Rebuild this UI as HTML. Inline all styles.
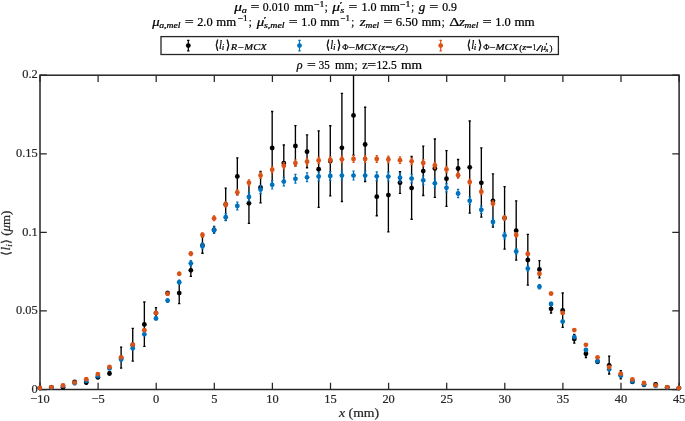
<!DOCTYPE html>
<html><head><meta charset="utf-8"><title>plot</title>
<style>
html,body{margin:0;padding:0;background:#fff;}
svg{display:block;font-family:"Liberation Serif",serif;}
.i{font-style:italic;}
</style></head><body>
<svg width="685" height="421" viewBox="0 0 685 421">
<rect width="685" height="421" fill="#fff"/>
<!--AXES-->
<rect x="40.0" y="75.2" width="639.10" height="314.30" fill="none" stroke="#262626" stroke-width="1.5"/><path d="M40.00 389.5v-6.8M40.00 75.2v6.8M98.10 389.5v-6.8M98.10 75.2v6.8M156.20 389.5v-6.8M156.20 75.2v6.8M214.30 389.5v-6.8M214.30 75.2v6.8M272.40 389.5v-6.8M272.40 75.2v6.8M330.50 389.5v-6.8M330.50 75.2v6.8M388.60 389.5v-6.8M388.60 75.2v6.8M446.70 389.5v-6.8M446.70 75.2v6.8M504.80 389.5v-6.8M504.80 75.2v6.8M562.90 389.5v-6.8M562.90 75.2v6.8M621.00 389.5v-6.8M621.00 75.2v6.8M679.10 389.5v-6.8M679.10 75.2v6.8M40.0 389.50h6.8M679.1 389.50h-6.8M40.0 310.93h6.8M679.1 310.93h-6.8M40.0 232.35h6.8M679.1 232.35h-6.8M40.0 153.77h6.8M679.1 153.77h-6.8M40.0 75.20h6.8M679.1 75.20h-6.8" stroke="#262626" stroke-width="1.25" fill="none"/><g font-size="12.4" fill="#262626" stroke="#262626" stroke-width="0.2"><text x="40.00" y="403.0" text-anchor="middle">−10</text><text x="98.10" y="403.0" text-anchor="middle">−5</text><text x="156.20" y="403.0" text-anchor="middle">0</text><text x="214.30" y="403.0" text-anchor="middle">5</text><text x="272.40" y="403.0" text-anchor="middle">10</text><text x="330.50" y="403.0" text-anchor="middle">15</text><text x="388.60" y="403.0" text-anchor="middle">20</text><text x="446.70" y="403.0" text-anchor="middle">25</text><text x="504.80" y="403.0" text-anchor="middle">30</text><text x="562.90" y="403.0" text-anchor="middle">35</text><text x="621.00" y="403.0" text-anchor="middle">40</text><text x="679.10" y="403.0" text-anchor="middle">45</text><text x="37.7" y="392.70" text-anchor="end">0</text><text x="37.7" y="314.12" text-anchor="end">0.05</text><text x="37.7" y="235.55" text-anchor="end">0.1</text><text x="37.7" y="156.97" text-anchor="end">0.15</text><text x="37.7" y="78.40" text-anchor="end">0.2</text></g>
<!--SERIES-->
<g transform="translate(-0.22 0.3)"><g><circle cx="40.00" cy="387.80" r="2.42" fill="#000"/><circle cx="51.62" cy="387.00" r="2.42" fill="#000"/><path d="M63.24 385.70V387.80M62.09 385.70H64.39M62.09 387.80H64.39" stroke="#000" stroke-width="1.35" fill="none"/><circle cx="63.24" cy="387.00" r="2.42" fill="#000"/><circle cx="74.86" cy="381.60" r="2.42" fill="#000"/><path d="M86.48 380.20V383.90M85.33 380.20H87.63M85.33 383.90H87.63" stroke="#000" stroke-width="1.35" fill="none"/><circle cx="86.48" cy="382.30" r="2.42" fill="#000"/><path d="M98.10 375.20V378.30M96.95 375.20H99.25M96.95 378.30H99.25" stroke="#000" stroke-width="1.35" fill="none"/><circle cx="98.10" cy="377.00" r="2.42" fill="#000"/><path d="M109.72 371.70V374.20M108.57 371.70H110.87M108.57 374.20H110.87" stroke="#000" stroke-width="1.35" fill="none"/><circle cx="109.72" cy="373.20" r="2.42" fill="#000"/><path d="M121.34 346.90V367.90M120.19 346.90H122.49M120.19 367.90H122.49" stroke="#000" stroke-width="1.35" fill="none"/><circle cx="121.34" cy="357.60" r="2.42" fill="#000"/><path d="M132.96 328.10V360.80M131.81 328.10H134.11M131.81 360.80H134.11" stroke="#000" stroke-width="1.35" fill="none"/><circle cx="132.96" cy="344.70" r="2.42" fill="#000"/><path d="M144.58 301.70V346.00M143.43 301.70H145.73M143.43 346.00H145.73" stroke="#000" stroke-width="1.35" fill="none"/><circle cx="144.58" cy="324.10" r="2.42" fill="#000"/><path d="M156.20 307.30V317.80M155.05 307.30H157.35M155.05 317.80H157.35" stroke="#000" stroke-width="1.35" fill="none"/><circle cx="156.20" cy="312.80" r="2.42" fill="#000"/><path d="M167.82 291.00V294.10M166.67 291.00H168.97M166.67 294.10H168.97" stroke="#000" stroke-width="1.35" fill="none"/><circle cx="167.82" cy="292.80" r="2.42" fill="#000"/><path d="M179.44 281.80V303.30M178.29 281.80H180.59M178.29 303.30H180.59" stroke="#000" stroke-width="1.35" fill="none"/><circle cx="179.44" cy="292.80" r="2.42" fill="#000"/><path d="M191.06 263.50V276.00M189.91 263.50H192.21M189.91 276.00H192.21" stroke="#000" stroke-width="1.35" fill="none"/><circle cx="191.06" cy="270.00" r="2.42" fill="#000"/><path d="M202.68 236.50V252.90M201.53 236.50H203.83M201.53 252.90H203.83" stroke="#000" stroke-width="1.35" fill="none"/><circle cx="202.68" cy="245.20" r="2.42" fill="#000"/><path d="M214.30 226.20V232.30M213.15 226.20H215.45M213.15 232.30H215.45" stroke="#000" stroke-width="1.35" fill="none"/><circle cx="214.30" cy="229.50" r="2.42" fill="#000"/><path d="M225.92 187.80V220.10M224.77 187.80H227.07M224.77 220.10H227.07" stroke="#000" stroke-width="1.35" fill="none"/><circle cx="225.92" cy="204.20" r="2.42" fill="#000"/><path d="M237.54 157.50V194.20M236.39 157.50H238.69M236.39 194.20H238.69" stroke="#000" stroke-width="1.35" fill="none"/><circle cx="237.54" cy="176.10" r="2.42" fill="#000"/><path d="M249.16 182.50V223.00M248.01 182.50H250.31M248.01 223.00H250.31" stroke="#000" stroke-width="1.35" fill="none"/><circle cx="249.16" cy="203.00" r="2.42" fill="#000"/><path d="M260.78 171.20V202.60M259.63 171.20H261.93M259.63 202.60H261.93" stroke="#000" stroke-width="1.35" fill="none"/><circle cx="260.78" cy="187.20" r="2.42" fill="#000"/><path d="M272.40 111.20V183.70M271.25 111.20H273.55M271.25 183.70H273.55" stroke="#000" stroke-width="1.35" fill="none"/><circle cx="272.40" cy="147.70" r="2.42" fill="#000"/><path d="M284.02 144.70V180.40M282.87 144.70H285.17M282.87 180.40H285.17" stroke="#000" stroke-width="1.35" fill="none"/><circle cx="284.02" cy="162.80" r="2.42" fill="#000"/><path d="M295.64 125.30V165.60M294.49 125.30H296.79M294.49 165.60H296.79" stroke="#000" stroke-width="1.35" fill="none"/><circle cx="295.64" cy="145.70" r="2.42" fill="#000"/><path d="M307.26 134.60V167.40M306.11 134.60H308.41M306.11 167.40H308.41" stroke="#000" stroke-width="1.35" fill="none"/><circle cx="307.26" cy="151.40" r="2.42" fill="#000"/><path d="M318.88 130.50V207.00M317.73 130.50H320.03M317.73 207.00H320.03" stroke="#000" stroke-width="1.35" fill="none"/><circle cx="318.88" cy="168.90" r="2.42" fill="#000"/><path d="M330.50 125.40V195.50M329.35 125.40H331.65M329.35 195.50H331.65" stroke="#000" stroke-width="1.35" fill="none"/><circle cx="330.50" cy="160.70" r="2.42" fill="#000"/><path d="M342.12 93.00V201.20M340.97 93.00H343.27M340.97 201.20H343.27" stroke="#000" stroke-width="1.35" fill="none"/><circle cx="342.12" cy="147.50" r="2.42" fill="#000"/><path d="M353.74 75.20V154.80M352.59 154.80H354.89" stroke="#000" stroke-width="1.35" fill="none"/><circle cx="353.74" cy="115.10" r="2.42" fill="#000"/><path d="M365.36 106.90V181.20M364.21 106.90H366.51M364.21 181.20H366.51" stroke="#000" stroke-width="1.35" fill="none"/><circle cx="365.36" cy="144.20" r="2.42" fill="#000"/><path d="M376.98 176.90V215.40M375.83 176.90H378.13M375.83 215.40H378.13" stroke="#000" stroke-width="1.35" fill="none"/><circle cx="376.98" cy="196.40" r="2.42" fill="#000"/><path d="M388.60 157.50V231.60M387.45 157.50H389.75M387.45 231.60H389.75" stroke="#000" stroke-width="1.35" fill="none"/><circle cx="388.60" cy="194.80" r="2.42" fill="#000"/><path d="M400.22 171.40V193.00M399.07 171.40H401.37M399.07 193.00H401.37" stroke="#000" stroke-width="1.35" fill="none"/><circle cx="400.22" cy="182.40" r="2.42" fill="#000"/><path d="M411.84 156.20V218.90M410.69 156.20H412.99M410.69 218.90H412.99" stroke="#000" stroke-width="1.35" fill="none"/><circle cx="411.84" cy="187.80" r="2.42" fill="#000"/><path d="M423.46 145.80V195.20M422.31 145.80H424.61M422.31 195.20H424.61" stroke="#000" stroke-width="1.35" fill="none"/><circle cx="423.46" cy="170.80" r="2.42" fill="#000"/><path d="M435.08 138.70V197.10M433.93 138.70H436.23M433.93 197.10H436.23" stroke="#000" stroke-width="1.35" fill="none"/><circle cx="435.08" cy="168.10" r="2.42" fill="#000"/><path d="M446.70 150.30V206.10M445.55 150.30H447.85M445.55 206.10H447.85" stroke="#000" stroke-width="1.35" fill="none"/><circle cx="446.70" cy="178.40" r="2.42" fill="#000"/><path d="M458.32 159.20V176.70M457.17 159.20H459.47M457.17 176.70H459.47" stroke="#000" stroke-width="1.35" fill="none"/><circle cx="458.32" cy="168.20" r="2.42" fill="#000"/><path d="M469.94 120.70V212.80M468.79 120.70H471.09M468.79 212.80H471.09" stroke="#000" stroke-width="1.35" fill="none"/><circle cx="469.94" cy="167.00" r="2.42" fill="#000"/><path d="M481.56 147.60V216.80M480.41 147.60H482.71M480.41 216.80H482.71" stroke="#000" stroke-width="1.35" fill="none"/><circle cx="481.56" cy="182.50" r="2.42" fill="#000"/><path d="M493.18 173.50V226.80M492.03 173.50H494.33M492.03 226.80H494.33" stroke="#000" stroke-width="1.35" fill="none"/><circle cx="493.18" cy="200.50" r="2.42" fill="#000"/><path d="M504.80 186.30V248.80M503.65 186.30H505.95M503.65 248.80H505.95" stroke="#000" stroke-width="1.35" fill="none"/><circle cx="504.80" cy="217.80" r="2.42" fill="#000"/><path d="M516.42 200.50V259.90M515.27 200.50H517.57M515.27 259.90H517.57" stroke="#000" stroke-width="1.35" fill="none"/><circle cx="516.42" cy="230.40" r="2.42" fill="#000"/><path d="M528.04 234.10V284.80M526.89 234.10H529.19M526.89 284.80H529.19" stroke="#000" stroke-width="1.35" fill="none"/><circle cx="528.04" cy="259.70" r="2.42" fill="#000"/><path d="M539.66 260.30V277.50M538.51 260.30H540.81M538.51 277.50H540.81" stroke="#000" stroke-width="1.35" fill="none"/><circle cx="539.66" cy="269.20" r="2.42" fill="#000"/><path d="M551.28 303.80V312.70M550.13 303.80H552.43M550.13 312.70H552.43" stroke="#000" stroke-width="1.35" fill="none"/><circle cx="551.28" cy="308.50" r="2.42" fill="#000"/><path d="M562.90 292.70V327.00M561.75 292.70H564.05M561.75 327.00H564.05" stroke="#000" stroke-width="1.35" fill="none"/><circle cx="562.90" cy="310.10" r="2.42" fill="#000"/><path d="M574.52 334.00V342.90M573.37 334.00H575.67M573.37 342.90H575.67" stroke="#000" stroke-width="1.35" fill="none"/><circle cx="574.52" cy="338.70" r="2.42" fill="#000"/><path d="M586.14 349.20V357.20M584.99 349.20H587.29M584.99 357.20H587.29" stroke="#000" stroke-width="1.35" fill="none"/><circle cx="586.14" cy="353.40" r="2.42" fill="#000"/><path d="M597.76 359.70V362.80M596.61 359.70H598.91M596.61 362.80H598.91" stroke="#000" stroke-width="1.35" fill="none"/><circle cx="597.76" cy="361.50" r="2.42" fill="#000"/><path d="M609.38 355.80V373.70M608.23 355.80H610.53M608.23 373.70H610.53" stroke="#000" stroke-width="1.35" fill="none"/><circle cx="609.38" cy="365.00" r="2.42" fill="#000"/><path d="M621.00 370.40V378.50M619.85 370.40H622.15M619.85 378.50H622.15" stroke="#000" stroke-width="1.35" fill="none"/><circle cx="621.00" cy="374.70" r="2.42" fill="#000"/><path d="M632.62 379.70V382.80M631.47 379.70H633.77M631.47 382.80H633.77" stroke="#000" stroke-width="1.35" fill="none"/><circle cx="632.62" cy="381.50" r="2.42" fill="#000"/><path d="M644.24 382.70V385.80M643.09 382.70H645.39M643.09 385.80H645.39" stroke="#000" stroke-width="1.35" fill="none"/><circle cx="644.24" cy="384.50" r="2.42" fill="#000"/><path d="M655.86 382.70V384.80M654.71 382.70H657.01M654.71 384.80H657.01" stroke="#000" stroke-width="1.35" fill="none"/><circle cx="655.86" cy="384.00" r="2.42" fill="#000"/><circle cx="667.48" cy="387.00" r="2.42" fill="#000"/><circle cx="679.10" cy="387.80" r="2.42" fill="#000"/></g><g><circle cx="40.00" cy="387.80" r="2.42" fill="#0072BD"/><circle cx="51.62" cy="387.00" r="2.42" fill="#0072BD"/><circle cx="63.24" cy="385.60" r="2.42" fill="#0072BD"/><circle cx="74.86" cy="383.00" r="2.42" fill="#0072BD"/><circle cx="86.48" cy="380.50" r="2.42" fill="#0072BD"/><circle cx="98.10" cy="375.70" r="2.42" fill="#0072BD"/><circle cx="109.72" cy="368.10" r="2.42" fill="#0072BD"/><circle cx="121.34" cy="359.20" r="2.42" fill="#0072BD"/><circle cx="132.96" cy="348.00" r="2.42" fill="#0072BD"/><path d="M144.58 332.86V335.14M143.43 332.86H145.73M143.43 335.14H145.73" stroke="#0072BD" stroke-width="1.2" fill="none"/><circle cx="144.58" cy="334.00" r="2.42" fill="#0072BD"/><path d="M156.20 316.63V319.57M155.05 316.63H157.35M155.05 319.57H157.35" stroke="#0072BD" stroke-width="1.2" fill="none"/><circle cx="156.20" cy="318.10" r="2.42" fill="#0072BD"/><path d="M167.82 298.46V302.14M166.67 298.46H168.97M166.67 302.14H168.97" stroke="#0072BD" stroke-width="1.2" fill="none"/><circle cx="167.82" cy="300.30" r="2.42" fill="#0072BD"/><path d="M179.44 279.68V284.12M178.29 279.68H180.59M178.29 284.12H180.59" stroke="#0072BD" stroke-width="1.2" fill="none"/><circle cx="179.44" cy="281.90" r="2.42" fill="#0072BD"/><path d="M191.06 260.39V265.61M189.91 260.39H192.21M189.91 265.61H192.21" stroke="#0072BD" stroke-width="1.2" fill="none"/><circle cx="191.06" cy="263.00" r="2.42" fill="#0072BD"/><path d="M202.68 242.64V248.56M201.53 242.64H203.83M201.53 248.56H203.83" stroke="#0072BD" stroke-width="1.2" fill="none"/><circle cx="202.68" cy="245.60" r="2.42" fill="#0072BD"/><path d="M214.30 226.61V233.19M213.15 226.61H215.45M213.15 233.19H215.45" stroke="#0072BD" stroke-width="1.2" fill="none"/><circle cx="214.30" cy="229.90" r="2.42" fill="#0072BD"/><path d="M225.92 213.34V220.46M224.77 213.34H227.07M224.77 220.46H227.07" stroke="#0072BD" stroke-width="1.2" fill="none"/><circle cx="225.92" cy="216.90" r="2.42" fill="#0072BD"/><path d="M237.54 201.91V209.49M236.39 201.91H238.69M236.39 209.49H238.69" stroke="#0072BD" stroke-width="1.2" fill="none"/><circle cx="237.54" cy="205.70" r="2.42" fill="#0072BD"/><path d="M249.16 192.63V200.57M248.01 192.63H250.31M248.01 200.57H250.31" stroke="#0072BD" stroke-width="1.2" fill="none"/><circle cx="249.16" cy="196.60" r="2.42" fill="#0072BD"/><path d="M260.78 185.18V193.42M259.63 185.18H261.93M259.63 193.42H261.93" stroke="#0072BD" stroke-width="1.2" fill="none"/><circle cx="260.78" cy="189.30" r="2.42" fill="#0072BD"/><path d="M272.40 180.28V188.72M271.25 180.28H273.55M271.25 188.72H273.55" stroke="#0072BD" stroke-width="1.2" fill="none"/><circle cx="272.40" cy="184.50" r="2.42" fill="#0072BD"/><path d="M284.02 177.01V185.59M282.87 177.01H285.17M282.87 185.59H285.17" stroke="#0072BD" stroke-width="1.2" fill="none"/><circle cx="284.02" cy="181.30" r="2.42" fill="#0072BD"/><path d="M295.64 174.15V182.85M294.49 174.15H296.79M294.49 182.85H296.79" stroke="#0072BD" stroke-width="1.2" fill="none"/><circle cx="295.64" cy="178.50" r="2.42" fill="#0072BD"/><path d="M307.26 172.62V181.38M306.11 172.62H308.41M306.11 181.38H308.41" stroke="#0072BD" stroke-width="1.2" fill="none"/><circle cx="307.26" cy="177.00" r="2.42" fill="#0072BD"/><path d="M318.88 171.81V180.59M317.73 171.81H320.03M317.73 180.59H320.03" stroke="#0072BD" stroke-width="1.2" fill="none"/><circle cx="318.88" cy="176.20" r="2.42" fill="#0072BD"/><path d="M330.50 171.19V180.01M329.35 171.19H331.65M329.35 180.01H331.65" stroke="#0072BD" stroke-width="1.2" fill="none"/><circle cx="330.50" cy="175.60" r="2.42" fill="#0072BD"/><path d="M342.12 170.89V179.71M340.97 170.89H343.27M340.97 179.71H343.27" stroke="#0072BD" stroke-width="1.2" fill="none"/><circle cx="342.12" cy="175.30" r="2.42" fill="#0072BD"/><path d="M353.74 170.89V179.71M352.59 170.89H354.89M352.59 179.71H354.89" stroke="#0072BD" stroke-width="1.2" fill="none"/><circle cx="353.74" cy="175.30" r="2.42" fill="#0072BD"/><path d="M365.36 170.89V179.71M364.21 170.89H366.51M364.21 179.71H366.51" stroke="#0072BD" stroke-width="1.2" fill="none"/><circle cx="365.36" cy="175.30" r="2.42" fill="#0072BD"/><path d="M376.98 171.60V180.40M375.83 171.60H378.13M375.83 180.40H378.13" stroke="#0072BD" stroke-width="1.2" fill="none"/><circle cx="376.98" cy="176.00" r="2.42" fill="#0072BD"/><path d="M388.60 171.91V180.69M387.45 171.91H389.75M387.45 180.69H389.75" stroke="#0072BD" stroke-width="1.2" fill="none"/><circle cx="388.60" cy="176.30" r="2.42" fill="#0072BD"/><path d="M400.22 173.03V181.77M399.07 173.03H401.37M399.07 181.77H401.37" stroke="#0072BD" stroke-width="1.2" fill="none"/><circle cx="400.22" cy="177.40" r="2.42" fill="#0072BD"/><path d="M411.84 173.95V182.65M410.69 173.95H412.99M410.69 182.65H412.99" stroke="#0072BD" stroke-width="1.2" fill="none"/><circle cx="411.84" cy="178.30" r="2.42" fill="#0072BD"/><path d="M423.46 175.68V184.32M422.31 175.68H424.61M422.31 184.32H424.61" stroke="#0072BD" stroke-width="1.2" fill="none"/><circle cx="423.46" cy="180.00" r="2.42" fill="#0072BD"/><path d="M435.08 178.75V187.25M433.93 178.75H436.23M433.93 187.25H436.23" stroke="#0072BD" stroke-width="1.2" fill="none"/><circle cx="435.08" cy="183.00" r="2.42" fill="#0072BD"/><path d="M446.70 183.34V191.66M445.55 183.34H447.85M445.55 191.66H447.85" stroke="#0072BD" stroke-width="1.2" fill="none"/><circle cx="446.70" cy="187.50" r="2.42" fill="#0072BD"/><path d="M458.32 189.16V197.24M457.17 189.16H459.47M457.17 197.24H459.47" stroke="#0072BD" stroke-width="1.2" fill="none"/><circle cx="458.32" cy="193.20" r="2.42" fill="#0072BD"/><path d="M469.94 196.61V204.39M468.79 196.61H471.09M468.79 204.39H471.09" stroke="#0072BD" stroke-width="1.2" fill="none"/><circle cx="469.94" cy="200.50" r="2.42" fill="#0072BD"/><path d="M481.56 205.79V213.21M480.41 205.79H482.71M480.41 213.21H482.71" stroke="#0072BD" stroke-width="1.2" fill="none"/><circle cx="481.56" cy="209.50" r="2.42" fill="#0072BD"/><path d="M493.18 218.14V225.06M492.03 218.14H494.33M492.03 225.06H494.33" stroke="#0072BD" stroke-width="1.2" fill="none"/><circle cx="493.18" cy="221.60" r="2.42" fill="#0072BD"/><path d="M504.80 232.12V238.48M503.65 232.12H505.95M503.65 238.48H505.95" stroke="#0072BD" stroke-width="1.2" fill="none"/><circle cx="504.80" cy="235.30" r="2.42" fill="#0072BD"/><path d="M516.42 248.35V254.05M515.27 248.35H517.57M515.27 254.05H517.57" stroke="#0072BD" stroke-width="1.2" fill="none"/><circle cx="516.42" cy="251.20" r="2.42" fill="#0072BD"/><path d="M528.04 265.80V270.80M526.89 265.80H529.19M526.89 270.80H529.19" stroke="#0072BD" stroke-width="1.2" fill="none"/><circle cx="528.04" cy="268.30" r="2.42" fill="#0072BD"/><path d="M539.66 284.28V288.52M538.51 284.28H540.81M538.51 288.52H540.81" stroke="#0072BD" stroke-width="1.2" fill="none"/><circle cx="539.66" cy="286.40" r="2.42" fill="#0072BD"/><path d="M551.28 301.93V305.47M550.13 301.93H552.43M550.13 305.47H552.43" stroke="#0072BD" stroke-width="1.2" fill="none"/><circle cx="551.28" cy="303.70" r="2.42" fill="#0072BD"/><path d="M562.90 319.90V322.70M561.75 319.90H564.05M561.75 322.70H564.05" stroke="#0072BD" stroke-width="1.2" fill="none"/><circle cx="562.90" cy="321.30" r="2.42" fill="#0072BD"/><path d="M574.52 335.71V337.89M573.37 335.71H575.67M573.37 337.89H575.67" stroke="#0072BD" stroke-width="1.2" fill="none"/><circle cx="574.52" cy="336.80" r="2.42" fill="#0072BD"/><circle cx="586.14" cy="349.70" r="2.42" fill="#0072BD"/><circle cx="597.76" cy="360.90" r="2.42" fill="#0072BD"/><circle cx="609.38" cy="369.00" r="2.42" fill="#0072BD"/><circle cx="621.00" cy="375.50" r="2.42" fill="#0072BD"/><circle cx="632.62" cy="381.10" r="2.42" fill="#0072BD"/><circle cx="644.24" cy="384.10" r="2.42" fill="#0072BD"/><circle cx="655.86" cy="385.50" r="2.42" fill="#0072BD"/><circle cx="667.48" cy="387.00" r="2.42" fill="#0072BD"/><circle cx="679.10" cy="387.80" r="2.42" fill="#0072BD"/></g><g><circle cx="40.00" cy="387.65" r="2.42" fill="#D95319"/><circle cx="51.62" cy="386.80" r="2.42" fill="#D95319"/><circle cx="63.24" cy="385.20" r="2.42" fill="#D95319"/><circle cx="74.86" cy="382.30" r="2.42" fill="#D95319"/><circle cx="86.48" cy="378.90" r="2.42" fill="#D95319"/><circle cx="98.10" cy="373.80" r="2.42" fill="#D95319"/><circle cx="109.72" cy="366.60" r="2.42" fill="#D95319"/><circle cx="121.34" cy="357.00" r="2.42" fill="#D95319"/><circle cx="132.96" cy="344.40" r="2.42" fill="#D95319"/><circle cx="144.58" cy="329.90" r="2.42" fill="#D95319"/><path d="M156.20 311.60V313.80M155.05 311.60H157.35M155.05 313.80H157.35" stroke="#D95319" stroke-width="1.2" fill="none"/><circle cx="156.20" cy="312.70" r="2.42" fill="#D95319"/><path d="M167.82 292.13V294.87M166.67 292.13H168.97M166.67 294.87H168.97" stroke="#D95319" stroke-width="1.2" fill="none"/><circle cx="167.82" cy="293.50" r="2.42" fill="#D95319"/><path d="M179.44 271.84V275.16M178.29 271.84H180.59M178.29 275.16H180.59" stroke="#D95319" stroke-width="1.2" fill="none"/><circle cx="179.44" cy="273.50" r="2.42" fill="#D95319"/><path d="M191.06 251.45V255.35M189.91 251.45H192.21M189.91 255.35H192.21" stroke="#D95319" stroke-width="1.2" fill="none"/><circle cx="191.06" cy="253.40" r="2.42" fill="#D95319"/><path d="M202.68 232.49V236.91M201.53 232.49H203.83M201.53 236.91H203.83" stroke="#D95319" stroke-width="1.2" fill="none"/><circle cx="202.68" cy="234.70" r="2.42" fill="#D95319"/><path d="M214.30 215.55V220.45M213.15 215.55H215.45M213.15 220.45H215.45" stroke="#D95319" stroke-width="1.2" fill="none"/><circle cx="214.30" cy="218.00" r="2.42" fill="#D95319"/><path d="M225.92 201.65V206.95M224.77 201.65H227.07M224.77 206.95H227.07" stroke="#D95319" stroke-width="1.2" fill="none"/><circle cx="225.92" cy="204.30" r="2.42" fill="#D95319"/><path d="M237.54 189.18V194.82M236.39 189.18H238.69M236.39 194.82H238.69" stroke="#D95319" stroke-width="1.2" fill="none"/><circle cx="237.54" cy="192.00" r="2.42" fill="#D95319"/><path d="M249.16 179.44V185.36M248.01 179.44H250.31M248.01 185.36H250.31" stroke="#D95319" stroke-width="1.2" fill="none"/><circle cx="249.16" cy="182.40" r="2.42" fill="#D95319"/><path d="M260.78 172.03V178.17M259.63 172.03H261.93M259.63 178.17H261.93" stroke="#D95319" stroke-width="1.2" fill="none"/><circle cx="260.78" cy="175.10" r="2.42" fill="#D95319"/><path d="M272.40 166.25V172.55M271.25 166.25H273.55M271.25 172.55H273.55" stroke="#D95319" stroke-width="1.2" fill="none"/><circle cx="272.40" cy="169.40" r="2.42" fill="#D95319"/><path d="M284.02 162.30V168.70M282.87 162.30H285.17M282.87 168.70H285.17" stroke="#D95319" stroke-width="1.2" fill="none"/><circle cx="284.02" cy="165.50" r="2.42" fill="#D95319"/><path d="M295.64 159.56V166.04M294.49 159.56H296.79M294.49 166.04H296.79" stroke="#D95319" stroke-width="1.2" fill="none"/><circle cx="295.64" cy="162.80" r="2.42" fill="#D95319"/><path d="M307.26 158.14V164.66M306.11 158.14H308.41M306.11 164.66H308.41" stroke="#D95319" stroke-width="1.2" fill="none"/><circle cx="307.26" cy="161.40" r="2.42" fill="#D95319"/><path d="M318.88 156.82V163.38M317.73 156.82H320.03M317.73 163.38H320.03" stroke="#D95319" stroke-width="1.2" fill="none"/><circle cx="318.88" cy="160.10" r="2.42" fill="#D95319"/><path d="M330.50 156.31V162.89M329.35 156.31H331.65M329.35 162.89H331.65" stroke="#D95319" stroke-width="1.2" fill="none"/><circle cx="330.50" cy="159.60" r="2.42" fill="#D95319"/><path d="M342.12 155.70V162.30M340.97 155.70H343.27M340.97 162.30H343.27" stroke="#D95319" stroke-width="1.2" fill="none"/><circle cx="342.12" cy="159.00" r="2.42" fill="#D95319"/><path d="M353.74 155.40V162.00M352.59 155.40H354.89M352.59 162.00H354.89" stroke="#D95319" stroke-width="1.2" fill="none"/><circle cx="353.74" cy="158.70" r="2.42" fill="#D95319"/><path d="M365.36 155.40V162.00M364.21 155.40H366.51M364.21 162.00H366.51" stroke="#D95319" stroke-width="1.2" fill="none"/><circle cx="365.36" cy="158.70" r="2.42" fill="#D95319"/><path d="M376.98 155.40V162.00M375.83 155.40H378.13M375.83 162.00H378.13" stroke="#D95319" stroke-width="1.2" fill="none"/><circle cx="376.98" cy="158.70" r="2.42" fill="#D95319"/><path d="M388.60 155.91V162.49M387.45 155.91H389.75M387.45 162.49H389.75" stroke="#D95319" stroke-width="1.2" fill="none"/><circle cx="388.60" cy="159.20" r="2.42" fill="#D95319"/><path d="M400.22 156.62V163.18M399.07 156.62H401.37M399.07 163.18H401.37" stroke="#D95319" stroke-width="1.2" fill="none"/><circle cx="400.22" cy="159.90" r="2.42" fill="#D95319"/><path d="M411.84 157.73V164.27M410.69 157.73H412.99M410.69 164.27H412.99" stroke="#D95319" stroke-width="1.2" fill="none"/><circle cx="411.84" cy="161.00" r="2.42" fill="#D95319"/><path d="M423.46 159.36V165.84M422.31 159.36H424.61M422.31 165.84H424.61" stroke="#D95319" stroke-width="1.2" fill="none"/><circle cx="423.46" cy="162.60" r="2.42" fill="#D95319"/><path d="M435.08 161.99V168.41M433.93 161.99H436.23M433.93 168.41H436.23" stroke="#D95319" stroke-width="1.2" fill="none"/><circle cx="435.08" cy="165.20" r="2.42" fill="#D95319"/><path d="M446.70 165.95V172.25M445.55 165.95H447.85M445.55 172.25H447.85" stroke="#D95319" stroke-width="1.2" fill="none"/><circle cx="446.70" cy="169.10" r="2.42" fill="#D95319"/><path d="M458.32 171.83V177.97M457.17 171.83H459.47M457.17 177.97H459.47" stroke="#D95319" stroke-width="1.2" fill="none"/><circle cx="458.32" cy="174.90" r="2.42" fill="#D95319"/><path d="M469.94 178.83V184.77M468.79 178.83H471.09M468.79 184.77H471.09" stroke="#D95319" stroke-width="1.2" fill="none"/><circle cx="469.94" cy="181.80" r="2.42" fill="#D95319"/><path d="M481.56 188.57V194.23M480.41 188.57H482.71M480.41 194.23H482.71" stroke="#D95319" stroke-width="1.2" fill="none"/><circle cx="481.56" cy="191.40" r="2.42" fill="#D95319"/><path d="M493.18 200.64V205.96M492.03 200.64H494.33M492.03 205.96H494.33" stroke="#D95319" stroke-width="1.2" fill="none"/><circle cx="493.18" cy="203.30" r="2.42" fill="#D95319"/><path d="M504.80 215.24V220.16M503.65 215.24H505.95M503.65 220.16H505.95" stroke="#D95319" stroke-width="1.2" fill="none"/><circle cx="504.80" cy="217.70" r="2.42" fill="#D95319"/><path d="M516.42 232.38V236.82M515.27 232.38H517.57M515.27 236.82H517.57" stroke="#D95319" stroke-width="1.2" fill="none"/><circle cx="516.42" cy="234.60" r="2.42" fill="#D95319"/><path d="M528.04 251.56V255.44M526.89 251.56H529.19M526.89 255.44H529.19" stroke="#D95319" stroke-width="1.2" fill="none"/><circle cx="528.04" cy="253.50" r="2.42" fill="#D95319"/><path d="M539.66 271.74V275.06M538.51 271.74H540.81M538.51 275.06H540.81" stroke="#D95319" stroke-width="1.2" fill="none"/><circle cx="539.66" cy="273.40" r="2.42" fill="#D95319"/><path d="M551.28 291.92V294.68M550.13 291.92H552.43M550.13 294.68H552.43" stroke="#D95319" stroke-width="1.2" fill="none"/><circle cx="551.28" cy="293.30" r="2.42" fill="#D95319"/><path d="M562.90 311.50V313.70M561.75 311.50H564.05M561.75 313.70H564.05" stroke="#D95319" stroke-width="1.2" fill="none"/><circle cx="562.90" cy="312.60" r="2.42" fill="#D95319"/><circle cx="574.52" cy="329.80" r="2.42" fill="#D95319"/><circle cx="586.14" cy="344.50" r="2.42" fill="#D95319"/><circle cx="597.76" cy="357.00" r="2.42" fill="#D95319"/><circle cx="609.38" cy="366.80" r="2.42" fill="#D95319"/><circle cx="621.00" cy="373.40" r="2.42" fill="#D95319"/><circle cx="632.62" cy="379.10" r="2.42" fill="#D95319"/><circle cx="644.24" cy="382.70" r="2.42" fill="#D95319"/><circle cx="655.86" cy="385.00" r="2.42" fill="#D95319"/><circle cx="667.48" cy="386.80" r="2.42" fill="#D95319"/><circle cx="679.10" cy="387.65" r="2.42" fill="#D95319"/></g></g>
<!--TEXT-->
<g fill="#000" stroke="#000" stroke-width="0.22"><text x="234.25" y="10.90" font-size="11.5" textLength="7.70" lengthAdjust="spacingAndGlyphs" class="i">μ</text><text x="241.65" y="12.80" font-size="8.0" textLength="5.10" lengthAdjust="spacingAndGlyphs" class="i">a</text><text x="250.55" y="10.90" font-size="11.5" textLength="9.00" lengthAdjust="spacingAndGlyphs">=</text><text x="262.85" y="10.90" font-size="11.5" textLength="26.40" lengthAdjust="spacingAndGlyphs">0.010</text><text x="294.35" y="10.90" font-size="11.5" textLength="19.50" lengthAdjust="spacingAndGlyphs">mm</text><text x="313.95" y="6.60" font-size="8.0" textLength="10.40" lengthAdjust="spacingAndGlyphs">−1</text><text x="324.85" y="10.90" font-size="11.5" textLength="3.00" lengthAdjust="spacingAndGlyphs">;</text><text x="332.35" y="10.90" font-size="11.5" textLength="7.80" lengthAdjust="spacingAndGlyphs" class="i">μ</text><text x="339.65" y="7.80" font-size="9.0" textLength="2.70" lengthAdjust="spacingAndGlyphs">′</text><text x="340.15" y="13.40" font-size="8.0" textLength="4.10" lengthAdjust="spacingAndGlyphs" class="i">s</text><text x="348.45" y="10.90" font-size="11.5" textLength="8.90" lengthAdjust="spacingAndGlyphs">=</text><text x="361.55" y="10.90" font-size="11.5" textLength="15.10" lengthAdjust="spacingAndGlyphs">1.0</text><text x="380.25" y="10.90" font-size="11.5" textLength="19.70" lengthAdjust="spacingAndGlyphs">mm</text><text x="400.05" y="6.60" font-size="8.0" textLength="10.40" lengthAdjust="spacingAndGlyphs">−1</text><text x="411.15" y="10.90" font-size="11.5" textLength="2.80" lengthAdjust="spacingAndGlyphs">;</text><text x="418.85" y="10.90" font-size="11.5" textLength="6.50" lengthAdjust="spacingAndGlyphs" class="i">g</text><text x="429.35" y="10.90" font-size="11.5" textLength="9.10" lengthAdjust="spacingAndGlyphs">=</text><text x="442.15" y="10.90" font-size="11.5" textLength="14.70" lengthAdjust="spacingAndGlyphs">0.9</text><text x="152.15" y="25.70" font-size="11.5" textLength="7.40" lengthAdjust="spacingAndGlyphs" class="i">μ</text><text x="159.15" y="27.60" font-size="8.0" textLength="21.30" lengthAdjust="spacingAndGlyphs" class="i">a,mel</text><text x="184.75" y="25.70" font-size="11.5" textLength="9.00" lengthAdjust="spacingAndGlyphs">=</text><text x="197.15" y="25.70" font-size="11.5" textLength="15.50" lengthAdjust="spacingAndGlyphs">2.0</text><text x="216.35" y="25.70" font-size="11.5" textLength="19.80" lengthAdjust="spacingAndGlyphs">mm</text><text x="237.75" y="21.40" font-size="8.0" textLength="10.00" lengthAdjust="spacingAndGlyphs">−1</text><text x="248.65" y="25.70" font-size="11.5" textLength="3.00" lengthAdjust="spacingAndGlyphs">;</text><text x="256.75" y="25.70" font-size="11.5" textLength="7.50" lengthAdjust="spacingAndGlyphs" class="i">μ</text><text x="263.85" y="22.60" font-size="9.0" textLength="2.70" lengthAdjust="spacingAndGlyphs">′</text><text x="264.05" y="28.20" font-size="8.0" textLength="20.50" lengthAdjust="spacingAndGlyphs" class="i">s,mel</text><text x="288.65" y="25.70" font-size="11.5" textLength="8.90" lengthAdjust="spacingAndGlyphs">=</text><text x="301.35" y="25.70" font-size="11.5" textLength="15.10" lengthAdjust="spacingAndGlyphs">1.0</text><text x="320.15" y="25.70" font-size="11.5" textLength="19.40" lengthAdjust="spacingAndGlyphs">mm</text><text x="340.55" y="21.40" font-size="8.0" textLength="9.40" lengthAdjust="spacingAndGlyphs">−1</text><text x="351.35" y="25.70" font-size="11.5" textLength="3.00" lengthAdjust="spacingAndGlyphs">;</text><text x="359.75" y="25.70" font-size="11.5" textLength="6.00" lengthAdjust="spacingAndGlyphs" class="i">z</text><text x="365.55" y="27.60" font-size="8.0" textLength="13.70" lengthAdjust="spacingAndGlyphs" class="i">mel</text><text x="383.45" y="25.70" font-size="11.5" textLength="8.90" lengthAdjust="spacingAndGlyphs">=</text><text x="395.75" y="25.70" font-size="11.5" textLength="22.20" lengthAdjust="spacingAndGlyphs">6.50</text><text x="421.65" y="25.70" font-size="11.5" textLength="19.40" lengthAdjust="spacingAndGlyphs">mm</text><text x="441.65" y="25.70" font-size="11.5" textLength="2.90" lengthAdjust="spacingAndGlyphs">;</text><text x="449.15" y="25.70" font-size="11.5" textLength="10.30" lengthAdjust="spacingAndGlyphs">Δ</text><text x="459.05" y="25.70" font-size="11.5" textLength="6.00" lengthAdjust="spacingAndGlyphs" class="i">z</text><text x="464.55" y="27.60" font-size="8.0" textLength="13.80" lengthAdjust="spacingAndGlyphs" class="i">mel</text><text x="482.45" y="25.70" font-size="11.5" textLength="9.20" lengthAdjust="spacingAndGlyphs">=</text><text x="495.25" y="25.70" font-size="11.5" textLength="15.50" lengthAdjust="spacingAndGlyphs">1.0</text><text x="514.45" y="25.70" font-size="11.5" textLength="20.30" lengthAdjust="spacingAndGlyphs">mm</text></g>
<g fill="#000" stroke="#000" stroke-width="0.22"><text x="296.85" y="68.60" font-size="12.2" textLength="5.80" lengthAdjust="spacingAndGlyphs" class="i">ρ</text><text x="307.05" y="68.60" font-size="12.2" textLength="8.80" lengthAdjust="spacingAndGlyphs">=</text><text x="318.85" y="68.60" font-size="12.2" textLength="10.90" lengthAdjust="spacingAndGlyphs">35</text><text x="335.05" y="68.60" font-size="12.2" textLength="19.10" lengthAdjust="spacingAndGlyphs">mm</text><text x="354.65" y="68.60" font-size="12.2" textLength="2.70" lengthAdjust="spacingAndGlyphs">;</text><text x="362.25" y="68.60" font-size="12.2" textLength="5.40" lengthAdjust="spacingAndGlyphs">z</text><text x="367.35" y="68.60" font-size="12.2" textLength="8.80" lengthAdjust="spacingAndGlyphs">=</text><text x="376.55" y="68.60" font-size="12.2" textLength="20.10" lengthAdjust="spacingAndGlyphs">12.5</text><text x="401.05" y="68.60" font-size="12.2" textLength="21.10" lengthAdjust="spacingAndGlyphs">mm</text></g>
<rect x="161" y="36.6" width="397.4" height="17.9" fill="#fff" stroke="#262626" stroke-width="1.3"/>
<path d="M188.3 40.4V50.9M187.10000000000002 40.4h2.4M187.10000000000002 50.9h2.4" stroke="#000" stroke-width="1.2" fill="none"/><circle cx="188.3" cy="45.6" r="2.42" fill="#000"/><path d="M299.5 40.4V50.9M298.3 40.4h2.4M298.3 50.9h2.4" stroke="#0072BD" stroke-width="1.2" fill="none"/><circle cx="299.5" cy="45.6" r="2.42" fill="#0072BD"/><path d="M440.7 40.4V50.9M439.5 40.4h2.4M439.5 50.9h2.4" stroke="#D95319" stroke-width="1.2" fill="none"/><circle cx="440.7" cy="45.6" r="2.42" fill="#D95319"/>
<g fill="#000" stroke="#000" stroke-width="0.2"><text x="214.55" y="49.00" font-size="11.5" textLength="4.10" lengthAdjust="spacingAndGlyphs" stroke-width="0.55">⟨</text><text x="218.95" y="48.90" font-size="11.5" textLength="3.00" lengthAdjust="spacingAndGlyphs" class="i">l</text><text x="221.65" y="50.30" font-size="8.0" textLength="2.60" lengthAdjust="spacingAndGlyphs" class="i">i</text><text x="225.55" y="49.00" font-size="11.5" textLength="4.30" lengthAdjust="spacingAndGlyphs" stroke-width="0.55">⟩</text><text x="230.75" y="50.40" font-size="8.0" textLength="35.90" lengthAdjust="spacingAndGlyphs" class="i">R−MCX</text><text x="325.85" y="49.00" font-size="11.5" textLength="4.10" lengthAdjust="spacingAndGlyphs" stroke-width="0.55">⟨</text><text x="330.25" y="48.90" font-size="11.5" textLength="3.00" lengthAdjust="spacingAndGlyphs" class="i">l</text><text x="332.95" y="50.30" font-size="8.0" textLength="2.60" lengthAdjust="spacingAndGlyphs" class="i">i</text><text x="336.85" y="49.00" font-size="11.5" textLength="4.30" lengthAdjust="spacingAndGlyphs" stroke-width="0.55">⟩</text><text x="342.25" y="50.40" font-size="8.0" textLength="6.30" lengthAdjust="spacingAndGlyphs">Φ</text><text x="348.65" y="50.40" font-size="8.0" textLength="6.30" lengthAdjust="spacingAndGlyphs">−</text><text x="354.95" y="50.40" font-size="8.0" textLength="22.40" lengthAdjust="spacingAndGlyphs" class="i">MCX</text><text x="378.25" y="50.70" font-size="8.0" textLength="3.00" lengthAdjust="spacingAndGlyphs">(</text><text x="381.35" y="50.40" font-size="8.0" textLength="4.00" lengthAdjust="spacingAndGlyphs" class="i">z</text><text x="385.15" y="50.40" font-size="8.0" textLength="6.30" lengthAdjust="spacingAndGlyphs">=</text><text x="391.05" y="50.40" font-size="8.0" textLength="4.00" lengthAdjust="spacingAndGlyphs" class="i">s</text><text x="394.85" y="50.70" font-size="8.0" textLength="5.30" lengthAdjust="spacingAndGlyphs">/</text><text x="399.95" y="50.40" font-size="8.0" textLength="4.80" lengthAdjust="spacingAndGlyphs">2</text><text x="405.05" y="50.70" font-size="8.0" textLength="3.00" lengthAdjust="spacingAndGlyphs">)</text><text x="466.75" y="49.00" font-size="11.5" textLength="4.10" lengthAdjust="spacingAndGlyphs" stroke-width="0.55">⟨</text><text x="471.15" y="48.90" font-size="11.5" textLength="3.00" lengthAdjust="spacingAndGlyphs" class="i">l</text><text x="473.85" y="50.30" font-size="8.0" textLength="2.60" lengthAdjust="spacingAndGlyphs" class="i">i</text><text x="477.75" y="49.00" font-size="11.5" textLength="4.30" lengthAdjust="spacingAndGlyphs" stroke-width="0.55">⟩</text><text x="483.35" y="50.40" font-size="8.0" textLength="6.30" lengthAdjust="spacingAndGlyphs">Φ</text><text x="489.65" y="50.40" font-size="8.0" textLength="5.80" lengthAdjust="spacingAndGlyphs">−</text><text x="495.55" y="50.40" font-size="8.0" textLength="22.90" lengthAdjust="spacingAndGlyphs" class="i">MCX</text><text x="519.25" y="50.70" font-size="8.0" textLength="3.00" lengthAdjust="spacingAndGlyphs">(</text><text x="522.15" y="50.40" font-size="8.0" textLength="4.00" lengthAdjust="spacingAndGlyphs" class="i">z</text><text x="525.95" y="50.40" font-size="8.0" textLength="6.30" lengthAdjust="spacingAndGlyphs">=</text><text x="532.55" y="50.40" font-size="8.0" textLength="3.80" lengthAdjust="spacingAndGlyphs">1</text><text x="536.15" y="50.70" font-size="8.0" textLength="5.30" lengthAdjust="spacingAndGlyphs">/</text><text x="541.05" y="50.40" font-size="8.0" textLength="5.00" lengthAdjust="spacingAndGlyphs" class="i">μ</text><text x="545.55" y="48.80" font-size="7.5" textLength="2.10" lengthAdjust="spacingAndGlyphs">′</text><text x="545.35" y="51.90" font-size="5.5" textLength="3.00" lengthAdjust="spacingAndGlyphs" class="i">s</text><text x="549.45" y="50.70" font-size="8.0" textLength="3.00" lengthAdjust="spacingAndGlyphs">)</text></g>
<g fill="#262626" stroke="#262626" stroke-width="0.22"><text x="339.05" y="416.80" font-size="12.4" textLength="40.10" lengthAdjust="spacingAndGlyphs"><tspan class="i">x</tspan> (mm)</text></g>
<g fill="#262626" stroke="#262626" stroke-width="0.22"><text transform="translate(9.9 255.6) rotate(-90)" font-size="12.4" textLength="45" lengthAdjust="spacingAndGlyphs">⟨<tspan class="i">l</tspan><tspan class="i" font-size="8.5" dy="1.6">i</tspan><tspan dy="-1.6">⟩ (</tspan><tspan class="i">μ</tspan>m)</text></g>
</svg>
</body></html>
